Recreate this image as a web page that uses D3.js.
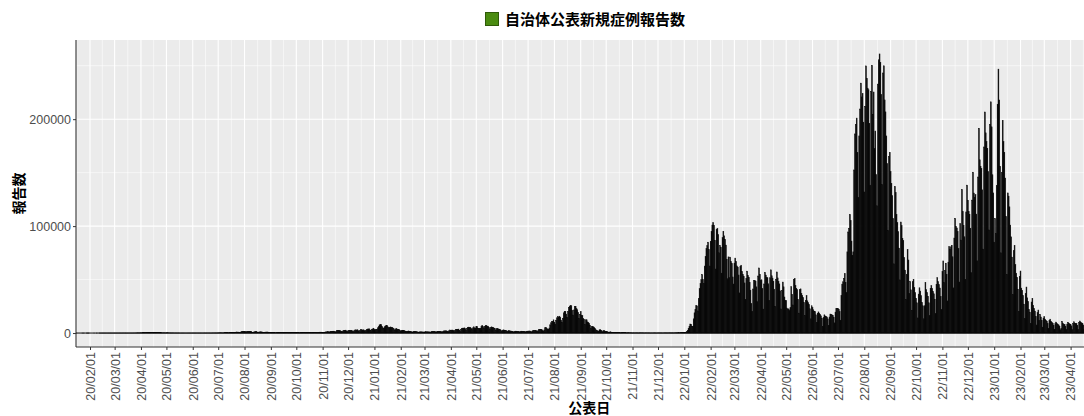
<!DOCTYPE html>
<html>
<head>
<meta charset="utf-8">
<script src="https://cdn.jsdelivr.net/npm/d3@7"></script>
<style>
  body { margin: 0; background: #fff; }
  svg { display: block; }
</style>
</head>
<body>
<svg id="chart" width="1084" height="416"></svg>
<script>
"use strict";

// daily reports, first value is 2020-01-16
const startDate = new Date(2020, 0, 16);

const cases2020 = [
  1,0,0,0,0,0,0,1,0,1,0,0,3,1,4,3,
  0,0,0,0,0,1,0,0,1,0,0,2,3,8,10,5,6,7,6,4,10,8,7,8,14,10,13,13,12,
  12,10,14,20,33,25,30,29,19,26,52,55,40,64,20,25,40,30,44,40,39,35,40,65,65,96,112,200,173,86,220,
  264,222,355,369,341,254,353,503,581,708,644,507,386,502,451,584,576,650,562,371,379,385,432,452,352,209,229,266,202,162,
  168,286,217,183,120,105,94,90,113,72,61,79,64,48,98,60,31,27,42,39,32,26,30,20,21,28,34,33,46,48,34,
  41,37,47,40,51,42,47,35,33,43,40,47,43,53,72,41,47,69,57,67,56,41,48,83,95,91,106,109,86,125,
  129,195,254,273,209,150,207,222,354,430,403,407,258,334,466,630,591,656,502,509,630,795,981,779,834,596,598,977,1263,1301,1581,
  1534,1331,969,1237,1358,1485,1591,1539,1433,825,706,985,1176,1350,1250,1017,637,905,1054,1146,1033,878,754,505,781,865,894,915,822,620,449,
  582,630,594,583,574,442,275,508,598,717,655,623,449,306,517,541,583,484,553,438,291,305,437,507,554,491,355,315,507,579,
  621,584,515,428,274,507,516,627,587,578,414,287,546,604,564,690,608,430,312,556,569,622,564,505,418,341,644,693,799,795,770,
  613,497,742,876,1063,1138,1324,1109,974,1285,1538,1660,1701,1733,1436,953,1688,2201,2386,2418,2168,2049,1511,1220,1950,2502,2518,2684,2041,1430,
  2031,2433,2518,2437,2506,2024,1500,2037,2811,2971,2788,3041,2386,1678,2387,3210,3037,2816,2993,2775,1807,2656,3271,3740,3820,3876,2924,2391,3595,3852,4520
];

const cases2021 = [
  3252,3053,3158,3325,4915,6004,7571,7957,7790,6102,4876,4538,5876,6604,7133,6999,5751,4938,5330,5692,5047,5386,4690,3986,2766,3864,4133,3538,3523,3341,2643,
  1791,2322,2630,2558,2367,1969,1644,1340,1568,1930,1758,1550,1361,1052,924,1298,1539,1350,1262,1203,1016,741,1079,1051,1180,1078,995,933,
  819,1230,1112,1202,1136,1063,1010,858,1131,1320,1300,1285,1328,1089,1025,1349,1496,1425,1542,1476,1150,1090,1600,1988,2050,2073,1995,1513,1410,2064,2842,
  2602,2763,2762,2472,1575,2669,3451,3452,3458,3695,2802,2102,3454,4287,4577,4568,4794,4120,2879,4335,5291,5525,5116,5002,4601,3295,4817,5797,4722,4668,
  5897,5946,4478,4048,4100,4404,6047,7238,6060,4715,6241,7041,6879,6266,6417,5250,3800,5245,5757,5342,5230,4691,4032,2730,4041,4157,3810,3650,3379,2691,1785,
  2690,2935,2783,2515,2388,1924,1280,2170,2104,1897,1902,1687,1386,934,1392,1738,1753,1528,1619,1309,1018,1421,1741,1702,1630,1610,1263,1056,1554,1745,
  1759,1868,1900,1600,1060,1874,2180,2241,2275,2453,2012,1502,2383,3194,3417,3427,3096,2322,1717,2908,4903,5396,4225,3575,3418,4692,7629,9573,10699,10743,12340,
  10172,8392,12021,14207,15263,14739,15753,14472,12084,10062,13853,18889,20362,20151,17786,14751,19955,23912,25152,25876,25492,21385,16813,21570,24956,24897,22745,21750,19295,13632,17484,
  20030,16752,16243,13806,12920,7985,12400,12386,10392,9784,9064,7213,4205,6020,6157,5743,5104,4097,3000,2201,1968,1640,2860,3200,2450,2070,1130,2220,2106,1579,
  1445,1304,1010,575,909,1128,853,722,671,546,366,606,635,612,497,499,430,228,385,388,344,324,283,298,154,249,293,275,262,246,186,
  86,183,162,121,186,159,162,105,163,201,208,169,176,133,77,137,160,137,122,145,122,50,131,77,95,124,145,111,84,71,
  131,141,115,121,128,83,93,124,170,160,136,140,100,190,197,150,163,188,165,117,225,257,259,269,286,286,216,390,486,499,447
];

const cases2022 = [
  451,534,782,1268,2638,4475,6214,8480,8249,6438,5988,13245,18859,22044,25746,25448,20686,32197,41485,46194,49854,54576,50013,46196,62613,71633,78930,81810,84937,78067,62650,
  85837,94945,100983,103299,100800,86710,59840,96926,97780,92112,75062,81790,80145,56010,89168,95197,90980,87617,82237,68964,50750,71200,51900,70963,66806,64897,52430,45812,
  65380,70112,66934,62750,61580,54270,37512,62260,63440,57550,54660,52960,46850,31530,51250,57870,53830,51900,47420,40050,27540,20390,41170,49060,48910,48530,43170,29310,53310,60850,54900,
  49300,49800,41600,22480,45880,56630,54170,51930,51710,46010,30670,51680,59070,53560,51380,48450,41000,25020,50340,57100,51540,48310,45940,39540,22510,39880,47650,43190,33700,30340,
  30510,23340,21860,22620,20910,23790,43460,36270,26250,50180,50980,44460,41810,40560,31450,18610,40540,41280,37060,35330,33120,28500,16440,30660,35040,30100,28400,26640,22700,13250,25520,
  23810,21730,20570,20000,17050,9840,18440,19750,18650,17430,16100,13770,6340,14400,17000,16040,15600,15000,13260,7220,14960,17730,17500,17050,16290,14770,9480,19550,23000,23110,
  23000,22000,20000,12000,35000,45800,47900,51000,55500,47500,37800,76000,94500,97800,110700,105100,86000,72700,76000,152500,186200,195100,201000,168900,126700,184400,209500,233700,220800,224100,197200,
  132000,212000,249800,238100,229000,227500,196100,138300,225900,250300,204600,225400,172400,188900,148100,119000,232800,255500,261000,253200,223200,138700,243200,249900,218000,206800,184300,158500,95800,164900,169000,
  151000,140000,128500,107100,64700,136900,131300,110900,103200,94800,79400,49700,103800,100400,88600,86500,70700,58800,31300,54800,78200,68300,37200,48100,40400,21100,48000,50300,42500,37800,
  32500,28300,14100,36400,42300,39200,34900,28600,25500,13300,25500,47400,40600,37800,34400,28300,16300,41900,44300,41800,38900,36700,31600,18100,45600,51900,48000,45200,42100,34100,22000,
  57500,67500,47200,58300,65300,55000,30000,66300,81000,78500,80600,82100,71300,42200,88900,107200,99700,98200,94900,79000,47700,102500,86900,134100,113500,100800,90000,50200,113300,138300,
  124200,113600,111100,98000,56400,124300,150400,130900,127000,129400,111200,67600,145900,191500,162000,156000,154000,134000,78500,174000,206700,187200,179000,172800,151000,96400,195000,216200,192800,148000,131000
];

const cases2023 = [
  85000,107000,93000,138000,214000,246800,218000,156000,75000,150000,199000,179000,169000,145000,109000,54700,131000,128000,118000,101000,90000,71000,36000,77000,82000,64000,56000,52000,41000,20000,53000,
  58000,42000,40000,35000,27000,13500,37000,43000,33000,29500,22000,19500,9000,29000,32500,26000,23000,20500,15500,7500,19000,21500,12000,17500,15000,12000,5500,14000,
  15500,13000,11800,11000,8900,4400,11700,13000,11000,10000,9000,7300,3500,8700,10200,8700,8000,7500,6300,3000,4300,10800,9000,8000,7800,6400,3100,8400,10100,8800,8500,
  8200,6700,3200,8700,10500,9100,8800,8700,7300,3400,9700,11200,10000,9400,9100,7500,3600,10200,12200,11000,10400,10100,8300,4000,11300,13100,11800,11100,9200,8500,
  4400,10500,8300,5700,5600,9000,9300,9300
];

const seriesName = "自治体公表新規症例報告数";
const yTicks = [0, 100000, 200000];

const allCases = cases2020.concat(cases2021, cases2022, cases2023);
const data = allCases.map(function(v, i) {
    return { date: d3.timeDay.offset(startDate, i), value: v };
});

const W = 1084, H = 416;
const margin = { left: 76, top: 40, bottom: 347 };
const halfDay = 12 * 60 * 60 * 1000;

const svg = d3.select("#chart");

const xStart = new Date(startDate.getTime() - halfDay);
const xEnd = new Date(data[data.length - 1].date.getTime() + halfDay);
const pxPerDay = 0.849;
const panelRight = margin.left + pxPerDay * (xEnd - xStart) / (2 * halfDay);

const x = d3.scaleTime()
    .domain([xStart, xEnd])
    .range([margin.left, panelRight]);

// ggplot style 5% expansion on y
const yMax = d3.max(data, function(d) { return d.value; });
const y = d3.scaleLinear()
    .domain([-0.05 * yMax, 1.05 * yMax])
    .range([margin.bottom, margin.top]);

const monthTicks = d3.timeMonth.range(new Date(2020, 1, 1), new Date(2023, 4, 1));
const minorX = [];
const allMonths = d3.timeMonth.range(new Date(2020, 0, 1), new Date(2023, 5, 1));
for (let i = 0; i < allMonths.length - 1; i++) {
    minorX.push(new Date((allMonths[i].getTime() + allMonths[i + 1].getTime()) / 2));
}
const minorY = [50000, 150000, 250000];

svg.append("defs").append("clipPath")
    .attr("id", "panel-clip")
  .append("rect")
    .attr("x", margin.left)
    .attr("y", margin.top)
    .attr("width", panelRight - margin.left)
    .attr("height", margin.bottom - margin.top);

const panel = svg.append("g").attr("clip-path", "url(#panel-clip)");

panel.append("rect")
    .attr("x", margin.left)
    .attr("y", margin.top)
    .attr("width", panelRight - margin.left)
    .attr("height", margin.bottom - margin.top)
    .style("fill", "#EBEBEB");

// grid lines
panel.selectAll("line.minor-x")
    .data(minorX)
    .enter().append("line")
        .attr("class", "minor-x")
        .attr("x1", function(d) { return x(d); })
        .attr("x2", function(d) { return x(d); })
        .attr("y1", margin.top)
        .attr("y2", margin.bottom)
        .style("stroke", "#fff")
        .style("stroke-width", 0.55);

panel.selectAll("line.minor-y")
    .data(minorY)
    .enter().append("line")
        .attr("class", "minor-y")
        .attr("x1", margin.left)
        .attr("x2", panelRight)
        .attr("y1", function(d) { return y(d); })
        .attr("y2", function(d) { return y(d); })
        .style("stroke", "#fff")
        .style("stroke-width", 0.55);

panel.selectAll("line.major-x")
    .data(monthTicks)
    .enter().append("line")
        .attr("class", "major-x")
        .attr("x1", function(d) { return x(d); })
        .attr("x2", function(d) { return x(d); })
        .attr("y1", margin.top)
        .attr("y2", margin.bottom)
        .style("stroke", "#fff")
        .style("stroke-width", 1.1);

panel.selectAll("line.major-y")
    .data(yTicks)
    .enter().append("line")
        .attr("class", "major-y")
        .attr("x1", margin.left)
        .attr("x2", panelRight)
        .attr("y1", function(d) { return y(d); })
        .attr("y2", function(d) { return y(d); })
        .style("stroke", "#fff")
        .style("stroke-width", 1.1);

// zero line drawn by the empty bars in the original
panel.append("line")
    .attr("x1", margin.left)
    .attr("x2", panelRight)
    .attr("y1", y(0))
    .attr("y2", y(0))
    .style("stroke", "#000")
    .style("stroke-width", 1);

// one bar per day
panel.selectAll("rect.bar")
    .data(data)
    .enter().append("rect")
        .attr("class", "bar")
        .attr("x", function(d) { return x(new Date(d.date.getTime() - halfDay)); })
        .attr("width", function(d) { return x(new Date(d.date.getTime() + halfDay)) - x(new Date(d.date.getTime() - halfDay)); })
        .attr("y", function(d) { return y(d.value); })
        .attr("height", function(d) { return y(0) - y(d.value); })
        .style("fill", "#0a0a0a")
        .style("stroke", "#000")
        .style("stroke-width", 0.5);

// axes
const xAxis = d3.axisBottom(x)
    .tickValues(monthTicks)
    .tickFormat(d3.timeFormat("%y/%m/%d"))
    .tickSize(3)
    .tickPadding(3);

const gx = svg.append("g")
    .attr("transform", "translate(0," + margin.bottom + ")")
    .call(xAxis);

gx.select(".domain").remove();
gx.selectAll(".tick line").style("stroke", "#333").style("stroke-width", 1);
gx.selectAll(".tick text")
    .attr("transform", "rotate(-90)")
    .attr("x", -5)
    .attr("y", 0)
    .attr("dy", "0.35em")
    .style("text-anchor", "end")
    .style("font-family", "'Liberation Sans', Arial, sans-serif")
    .style("font-size", "12.5px")
    .style("fill", "#4D4D4D");

const yAxis = d3.axisLeft(y)
    .tickValues(yTicks)
    .tickFormat(d3.format("d"))
    .tickSize(3)
    .tickPadding(2);

const gy = svg.append("g")
    .attr("transform", "translate(" + margin.left + ",0)")
    .call(yAxis);

gy.select(".domain").remove();
gy.selectAll(".tick line").style("stroke", "#333").style("stroke-width", 1);
gy.selectAll(".tick text")
    .style("font-family", "'Liberation Sans', Arial, sans-serif")
    .style("font-size", "12.5px")
    .style("fill", "#4D4D4D");

svg.append("line")
    .attr("x1", margin.left).attr("x2", margin.left)
    .attr("y1", margin.top).attr("y2", margin.bottom)
    .style("stroke", "#333").style("stroke-width", 1.1);

svg.append("line")
    .attr("x1", margin.left).attr("x2", W)
    .attr("y1", margin.bottom).attr("y2", margin.bottom)
    .style("stroke", "#333").style("stroke-width", 1.1);

// titles
const jpFont = "'Noto Sans CJK JP', 'Noto Sans', sans-serif";

svg.append("text")
    .attr("transform", "translate(24," + ((margin.top + margin.bottom) / 2) + ") rotate(-90)")
    .style("text-anchor", "middle")
    .style("font-family", jpFont)
    .style("font-weight", "bold")
    .style("font-size", "14px")
    .style("fill", "#000")
    .text("報告数");

svg.append("text")
    .attr("x", (margin.left + panelRight) / 2)
    .attr("y", 413)
    .style("text-anchor", "middle")
    .style("font-family", jpFont)
    .style("font-weight", "bold")
    .style("font-size", "14px")
    .style("fill", "#000")
    .text("公表日");

// legend
const legend = svg.append("g").attr("transform", "translate(485,12)");

legend.append("rect")
    .attr("x", 0.5).attr("y", 0.5)
    .attr("width", 13).attr("height", 13)
    .style("fill", "#4A8B10")
    .style("stroke", "#2f5a08")
    .style("stroke-width", 1);

legend.append("text")
    .attr("x", 20)
    .attr("y", 12.5)
    .style("font-family", jpFont)
    .style("font-weight", "bold")
    .style("font-size", "15px")
    .style("fill", "#000")
    .text(seriesName);
</script>
</body>
</html>
